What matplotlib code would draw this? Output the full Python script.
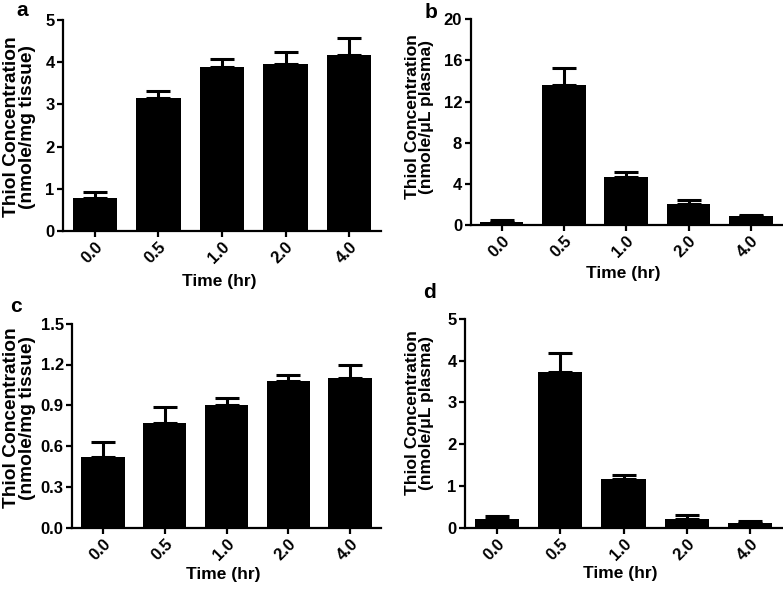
import numpy as np
import matplotlib
matplotlib.use('Agg')
import matplotlib.pyplot as plt

plt.rcParams['font.family'] = ['Liberation Sans', 'DejaVu Sans']
plt.rcParams['font.weight'] = 'bold'

W, H = 783, 590

# 时间点
times = ['0.0', '0.5', '1.0', '2.0', '4.0']

# a: 组织
a_mean = [0.79, 3.14, 3.89, 3.95, 4.16]
a_err = [0.14, 0.18, 0.18, 0.29, 0.41]
# b: 血浆
b_mean = [0.30, 13.6, 4.65, 2.04, 0.84]
b_err = [0.15, 1.7, 0.52, 0.42, 0.10]
# c: 组织
c_mean = [0.52, 0.77, 0.90, 1.08, 1.10]
c_err = [0.11, 0.115, 0.055, 0.04, 0.095]
# d: 血浆
d_mean = [0.21, 3.72, 1.17, 0.21, 0.12]
d_err = [0.08, 0.45, 0.09, 0.09, 0.05]

label_tissue = 'Thiol Concentration\n(nmole/mg tissue)'
label_plasma = 'Thiol Concentration\n(nmole/\u03bcL plasma)'

fig = plt.figure(figsize=(W / 100, H / 100), dpi=100)

# 位置: 坐标轴(像素 左,右,上,下), y轴标题(右边x,中心y,字号), x轴标题上沿y, 字母位置
panels = [
    ('a', (63, 381, 20, 231), a_mean, a_err, 5, [0, 1, 2, 3, 4, 5], '%g', label_tissue,
     (36, 127, 13.8), 274, (22, 11)),
    ('b', (470.5, 782, 19.3, 225), b_mean, b_err, 20, [0, 4, 8, 12, 16, 20], '%g', label_plasma,
     (434, 117, 12.6), 266, (431, 12)),
    ('c', (72, 381, 323.7, 527.7), c_mean, c_err, 1.5, [0, 0.3, 0.6, 0.9, 1.2, 1.5], '%.1f', label_tissue,
     (36, 418, 13.8), 567, (16, 307)),
    ('d', (465, 782, 318.7, 528), d_mean, d_err, 5, [0, 1, 2, 3, 4, 5], '%g', label_plasma,
     (434, 413, 12.6), 566, (430, 292)),
]

for letter, box, mean, err, ymax, yt, fmt, ylab, yl, xl_top, lpos in panels:
    l, r, t, b = box
    ax = fig.add_axes([l / W, 1 - b / H, (r - l) / W, (b - t) / H])
    x = np.arange(len(times))
    ax.bar(x, mean, width=0.7, color='black', zorder=2)
    ax.errorbar(x, mean, yerr=[np.zeros(len(err)), err], fmt='none', ecolor='black',
                elinewidth=2.2, capsize=8.5, capthick=2.2, zorder=1)
    ax.set_xlim(-0.5, 4.5)
    ax.set_ylim(0, ymax)
    ax.set_yticks(yt)
    ax.set_yticklabels([fmt % v for v in yt])
    ax.set_xticks(x)
    ax.set_xticklabels(times, rotation=45, ha='right', rotation_mode='anchor')
    for s in ['top', 'right']:
        ax.spines[s].set_visible(False)
    for s in ['left', 'bottom']:
        ax.spines[s].set_linewidth(1.6)
    ax.tick_params(direction='out', length=4, width=1.6, labelsize=12, pad=2)

    ax.set_xlabel('Time (hr)', fontsize=12.5, fontweight='bold')
    ax.xaxis.set_label_coords(((l + r) / 2 - 3) / W, 1 - xl_top / H, transform=fig.transFigure)
    ax.set_ylabel(ylab, fontsize=yl[2], fontweight='bold', linespacing=0.9)
    ax.yaxis.set_label_coords(yl[0] / W, 1 - yl[1] / H, transform=fig.transFigure)

    fig.text(lpos[0] / W, 1 - lpos[1] / H, letter, fontsize=15, fontweight='bold',
             ha='center', va='center')

fig.savefig('out.png', dpi=100)
